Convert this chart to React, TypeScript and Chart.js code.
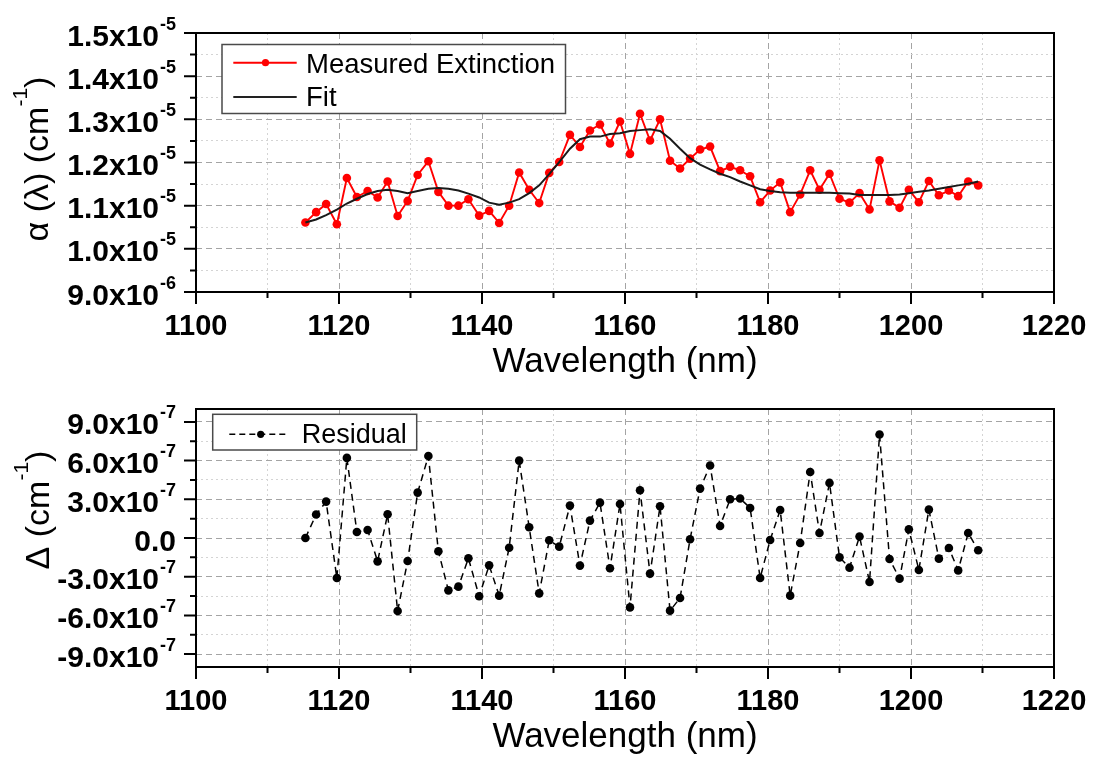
import React, { useEffect, useRef } from 'react';
import { Chart, registerables } from 'chart.js';

Chart.register(...registerables);

// ---------------- data ----------------
// wavelength in nm
const wavelength = [
  1115.3, 1116.8, 1118.2, 1119.7, 1121.1, 1122.5, 1124.0, 1125.4, 1126.8, 1128.2,
  1129.6, 1131.0, 1132.5, 1133.9, 1135.3, 1136.7, 1138.1, 1139.6, 1141.0, 1142.4,
  1143.8, 1145.2, 1146.6, 1148.0, 1149.4, 1150.8, 1152.3, 1153.7, 1155.1, 1156.5,
  1157.9, 1159.3, 1160.7, 1162.1, 1163.5, 1164.9, 1166.3, 1167.7, 1169.1, 1170.5,
  1171.9, 1173.3, 1174.7, 1176.1, 1177.5, 1178.9, 1180.3, 1181.7, 1183.1, 1184.5,
  1185.9, 1187.2, 1188.6, 1190.0, 1191.4, 1192.8, 1194.2, 1195.6, 1197.0, 1198.4,
  1199.7, 1201.1, 1202.5, 1203.9, 1205.3, 1206.6, 1208.0, 1209.4,
];

// measured extinction, units of 1e-5 cm^-1
const measured = [
  1.061, 1.085, 1.104, 1.057, 1.164, 1.120, 1.134, 1.119, 1.156, 1.076,
  1.111, 1.171, 1.203, 1.132, 1.100, 1.100, 1.115, 1.077, 1.088, 1.060,
  1.100, 1.177, 1.137, 1.106, 1.176, 1.201, 1.264, 1.236, 1.274, 1.288,
  1.244, 1.295, 1.220, 1.313, 1.251, 1.300, 1.204, 1.186, 1.209, 1.230,
  1.237, 1.180, 1.190, 1.182, 1.168, 1.108, 1.135, 1.154, 1.085, 1.126,
  1.182, 1.137, 1.174, 1.116, 1.107, 1.129, 1.091, 1.205, 1.110, 1.095,
  1.137, 1.108, 1.157, 1.124, 1.135, 1.122, 1.156, 1.147,
];

// fit, units of 1e-5 cm^-1
const fit = [
  1.061, 1.068, 1.078, 1.091, 1.105, 1.116, 1.127, 1.134, 1.137, 1.134,
  1.129, 1.134, 1.139, 1.141, 1.139, 1.135, 1.128, 1.119, 1.107, 1.102,
  1.107, 1.115, 1.129, 1.147, 1.173, 1.201, 1.232, 1.254, 1.260, 1.260,
  1.266, 1.268, 1.273, 1.275, 1.277, 1.273, 1.255, 1.232, 1.210, 1.195,
  1.184, 1.174, 1.166, 1.156, 1.147, 1.138, 1.134, 1.131, 1.130, 1.130,
  1.130, 1.130, 1.130, 1.129, 1.128, 1.125, 1.125, 1.125, 1.125, 1.126,
  1.129, 1.132, 1.135, 1.139, 1.143, 1.147, 1.151, 1.156,
];

// residual, units of 1e-7 cm^-1
const residual = [
  0.0, 1.82, 2.82, -3.10, 6.21, 0.47, 0.62, -1.81, 1.84, -5.66,
  -1.78, 3.52, 6.36, -1.03, -4.06, -3.77, -1.57, -4.52, -2.12, -4.47,
  -0.75, 6.00, 0.83, -4.29, -0.18, -0.67, 2.51, -2.14, 1.35, 2.74,
  -2.35, 2.64, -5.38, 3.70, -2.76, 2.46, -5.63, -4.65, -0.10, 3.83,
  5.62, 0.93, 3.00, 3.06, 2.33, -3.10, -0.16, 2.17, -4.47, -0.39,
  5.12, 0.39, 4.27, -1.50, -2.30, 0.11, -3.41, 8.02, -1.63, -3.15,
  0.67, -2.48, 2.20, -1.60, -0.78, -2.51, 0.39, -0.95,
];

// ---------------- ticks ----------------
const xMajorTicks = [1100, 1120, 1140, 1160, 1180, 1200, 1220];
const xMinorTicks = [1110, 1130, 1150, 1170, 1190, 1210];
const xMajorLabels = ['1100', '1120', '1140', '1160', '1180', '1200', '1220'];

const yTopMajor = [0.9, 1.0, 1.1, 1.2, 1.3, 1.4, 1.5];
const yTopMinor = [0.95, 1.05, 1.15, 1.25, 1.35, 1.45];
const yTopMantissa = ['9.0x10', '1.0x10', '1.1x10', '1.2x10', '1.3x10', '1.4x10', '1.5x10'];
const yTopExponent = ['-6', '-5', '-5', '-5', '-5', '-5', '-5'];

const yBotMajor = [-9, -6, -3, 0, 3, 6, 9];
const yBotMinor = [-7.5, -4.5, -1.5, 1.5, 4.5, 7.5];
const yBotMantissa = ['-9.0x10', '-6.0x10', '-3.0x10', '0.0', '3.0x10', '6.0x10', '9.0x10'];
const yBotExponent = ['-7', '-7', '-7', '', '-7', '-7', '-7'];

const FONT = '"Liberation Sans", Arial, Helvetica, sans-serif';
const MAJOR_GRID = '#a4a4a4';
const MINOR_GRID = '#d4d4d4';
const W = 1093;

interface LegendItem {
  label: string;
  color: string;
  width: number;
  dash: number[];
  marker: boolean;
  lineY: number;
  baseline: number;
}

interface PanelSpec {
  top: number;
  height: number;
  area: { left: number; top: number; right: number; bottom: number };
  yMin: number;
  yMax: number;
  yMajor: number[];
  yMinor: number[];
  yMantissa: string[];
  yExponent: string[];
  yTitle: [string, string, string];
  yTitleX: number;
  yTitleCenter: number;
  legendBox: { x: number; y: number; w: number; h: number };
  legendItems: LegendItem[];
  legendFont: number;
  sampleX1: number;
  sampleX2: number;
  markerX: number;
  textX: number;
  datasets: any[];
}

const near = (arr: number[], v: number) => arr.some((a) => Math.abs(a - v) < 1e-6);

function decorPlugin(spec: PanelSpec) {
  return {
    id: 'decor',
    afterDraw(chart: any) {
      const ctx: CanvasRenderingContext2D = chart.ctx;
      const a = chart.chartArea;
      const xs = chart.scales.x;
      const ys = chart.scales.y;
      ctx.save();
      ctx.setLineDash([]);
      ctx.strokeStyle = '#000';
      ctx.lineWidth = 2;
      // tick marks
      ctx.beginPath();
      xMajorTicks.forEach((v) => {
        const p = xs.getPixelForValue(v);
        ctx.moveTo(p, a.bottom);
        ctx.lineTo(p, a.bottom + 12);
      });
      xMinorTicks.forEach((v) => {
        const p = xs.getPixelForValue(v);
        ctx.moveTo(p, a.bottom);
        ctx.lineTo(p, a.bottom + 6);
      });
      spec.yMajor.forEach((v) => {
        const p = ys.getPixelForValue(v);
        ctx.moveTo(a.left, p);
        ctx.lineTo(a.left - 12, p);
      });
      spec.yMinor.forEach((v) => {
        const p = ys.getPixelForValue(v);
        ctx.moveTo(a.left, p);
        ctx.lineTo(a.left - 6, p);
      });
      ctx.stroke();
      // frame
      ctx.strokeRect(a.left, a.top, a.right - a.left, a.bottom - a.top);

      ctx.fillStyle = '#000';
      // x tick labels
      ctx.font = `bold 29px ${FONT}`;
      ctx.textAlign = 'center';
      ctx.textBaseline = 'alphabetic';
      xMajorTicks.forEach((v, i) => {
        ctx.fillText(xMajorLabels[i], xs.getPixelForValue(v), a.bottom + 43);
      });
      // y tick labels with superscript exponent
      ctx.textAlign = 'left';
      spec.yMajor.forEach((v, i) => {
        const p = ys.getPixelForValue(v);
        const main = spec.yMantissa[i];
        const sup = spec.yExponent[i];
        ctx.font = `bold 18px ${FONT}`;
        const ws = sup ? ctx.measureText(sup).width : 0;
        ctx.font = `bold 30px ${FONT}`;
        const wm = ctx.measureText(main).width;
        const right = a.left - 20;
        const x0 = right - ws - wm - (sup ? 1 : 0);
        ctx.fillText(main, x0, p + 12.5);
        if (sup) {
          ctx.font = `bold 18px ${FONT}`;
          ctx.fillText(sup, right - ws, p - 3.5);
        }
      });
      // x title
      ctx.font = `35px ${FONT}`;
      ctx.textAlign = 'center';
      ctx.fillText('Wavelength (nm)', (a.left + a.right) / 2, a.bottom + 80);

      // y title (rotated)
      ctx.save();
      ctx.translate(spec.yTitleX, spec.yTitleCenter);
      ctx.rotate(-Math.PI / 2);
      ctx.textAlign = 'left';
      const [t1, t2, t3] = spec.yTitle;
      ctx.font = `34px ${FONT}`;
      const w1 = ctx.measureText(t1).width;
      const w3 = ctx.measureText(t3).width;
      ctx.font = `21px ${FONT}`;
      const w2 = ctx.measureText(t2).width;
      const start = -(w1 + w2 + w3) / 2;
      ctx.font = `34px ${FONT}`;
      ctx.fillText(t1, start, 0);
      ctx.fillText(t3, start + w1 + w2, 0);
      ctx.font = `21px ${FONT}`;
      ctx.fillText(t2, start + w1, -21);
      ctx.restore();

      // legend
      const b = spec.legendBox;
      ctx.fillStyle = '#fff';
      ctx.fillRect(b.x, b.y, b.w, b.h);
      ctx.strokeStyle = '#4a4a4a';
      ctx.lineWidth = 1.5;
      ctx.setLineDash([]);
      ctx.strokeRect(b.x, b.y, b.w, b.h);
      spec.legendItems.forEach((it) => {
        ctx.strokeStyle = it.color;
        ctx.lineWidth = it.width;
        ctx.setLineDash(it.dash);
        ctx.beginPath();
        ctx.moveTo(spec.sampleX1, it.lineY);
        ctx.lineTo(spec.sampleX2, it.lineY);
        ctx.stroke();
        ctx.setLineDash([]);
        if (it.marker) {
          ctx.fillStyle = it.color;
          ctx.beginPath();
          ctx.arc(spec.markerX, it.lineY, 3.6, 0, Math.PI * 2);
          ctx.fill();
        }
        ctx.fillStyle = '#000';
        ctx.font = `${spec.legendFont}px ${FONT}`;
        ctx.textAlign = 'left';
        ctx.fillText(it.label, spec.textX, it.baseline);
      });
      ctx.restore();
    },
  };
}

function buildConfig(spec: PanelSpec): any {
  const allX = [...xMajorTicks, ...xMinorTicks];
  const allY = [...spec.yMajor, ...spec.yMinor];
  return {
    type: 'line',
    data: { datasets: spec.datasets },
    plugins: [decorPlugin(spec)],
    options: {
      responsive: false,
      maintainAspectRatio: false,
      animation: false,
      events: [],
      layout: {
        autoPadding: false,
        padding: {
          left: spec.area.left,
          top: spec.area.top,
          right: W - spec.area.right,
          bottom: spec.height - spec.area.bottom,
        },
      },
      plugins: { legend: { display: false }, tooltip: { enabled: false } },
      scales: {
        x: {
          type: 'linear',
          min: 1100,
          max: 1220,
          afterBuildTicks: (s: any) => {
            s.ticks = allX.map((v) => ({ value: v }));
          },
          afterFit: (s: any) => {
            s.height = 0;
          },
          ticks: { display: false },
          grid: {
            drawTicks: false,
            lineWidth: 1,
            color: (c: any) => (near(xMajorTicks, c.tick.value) ? MAJOR_GRID : MINOR_GRID),
          },
          border: {
            display: false,
            dash: (c: any) => (near(xMajorTicks, c.tick.value) ? [6, 4] : [2, 3]),
          },
        },
        y: {
          type: 'linear',
          min: spec.yMin,
          max: spec.yMax,
          afterBuildTicks: (s: any) => {
            s.ticks = allY.map((v) => ({ value: v }));
          },
          afterFit: (s: any) => {
            s.width = 0;
          },
          ticks: { display: false },
          grid: {
            drawTicks: false,
            lineWidth: 1,
            color: (c: any) => (near(spec.yMajor, c.tick.value) ? MAJOR_GRID : MINOR_GRID),
          },
          border: {
            display: false,
            dash: (c: any) => (near(spec.yMajor, c.tick.value) ? [6, 4] : [2, 3]),
          },
        },
      },
    },
  };
}

const topSpec: PanelSpec = {
  top: 0,
  height: 381,
  area: { left: 196, top: 33, right: 1054, bottom: 292 },
  yMin: 0.9,
  yMax: 1.5,
  yMajor: yTopMajor,
  yMinor: yTopMinor,
  yMantissa: yTopMantissa,
  yExponent: yTopExponent,
  yTitle: ['\u03b1 (\u03bb) (cm', '-1', ')'],
  yTitleX: 48,
  yTitleCenter: 159,
  legendBox: { x: 222, y: 44.5, w: 343.5, h: 69 },
  legendItems: [
    { label: 'Measured Extinction', color: '#ff0000', width: 2, dash: [], marker: true, lineY: 62.7, baseline: 72.7 },
    { label: 'Fit', color: '#222222', width: 2, dash: [], marker: false, lineY: 97, baseline: 106 },
  ],
  legendFont: 27.5,
  sampleX1: 233.3,
  sampleX2: 296.7,
  markerX: 265.5,
  textX: 306,
  datasets: [
    {
      label: 'Fit',
      data: wavelength.map((x, i) => ({ x, y: fit[i] })),
      borderColor: '#1a1a1a',
      borderWidth: 2,
      pointRadius: 0,
      tension: 0,
      order: 0,
    },
    {
      label: 'Measured Extinction',
      data: wavelength.map((x, i) => ({ x, y: measured[i] })),
      borderColor: '#ff0000',
      backgroundColor: '#ff0000',
      borderWidth: 1.9,
      pointRadius: 4.3,
      pointBackgroundColor: '#ff0000',
      pointBorderColor: '#ff0000',
      pointBorderWidth: 0,
      tension: 0,
      order: 1,
    },
  ],
};

const botSpec: PanelSpec = {
  top: 381,
  height: 382,
  area: { left: 196, top: 28, right: 1054, bottom: 286 },
  yMin: -10,
  yMax: 10,
  yMajor: yBotMajor,
  yMinor: yBotMinor,
  yMantissa: yBotMantissa,
  yExponent: yBotExponent,
  yTitle: ['\u0394 (cm', '-1', ')'],
  yTitleX: 49,
  yTitleCenter: 129,
  legendBox: { x: 212.7, y: 33.3, w: 204, h: 35.7 },
  legendItems: [
    { label: 'Residual', color: '#000000', width: 1.6, dash: [6, 4], marker: true, lineY: 53.3, baseline: 61.7 },
  ],
  legendFont: 27,
  sampleX1: 229.3,
  sampleX2: 287.3,
  markerX: 260.7,
  textX: 301.7,
  datasets: [
    {
      label: 'Residual',
      data: wavelength.map((x, i) => ({ x, y: residual[i] })),
      borderColor: '#000000',
      backgroundColor: '#000000',
      borderWidth: 1.5,
      borderDash: [7, 5],
      pointRadius: 4.3,
      pointBackgroundColor: '#000000',
      pointBorderColor: '#000000',
      pointBorderWidth: 0,
      tension: 0,
    },
  ],
};

function Panel({ spec }: { spec: PanelSpec }) {
  const ref = useRef<HTMLCanvasElement>(null);
  useEffect(() => {
    if (!ref.current) return;
    const chart = new Chart(ref.current, buildConfig(spec));
    return () => chart.destroy();
  }, [spec]);
  return (
    <canvas
      ref={ref}
      width={W}
      height={spec.height}
      style={{ position: 'absolute', left: 0, top: spec.top, width: W, height: spec.height, display: 'block' }}
    />
  );
}

export default function App() {
  return (
    <div style={{ position: 'absolute', left: 0, top: 0, width: W, height: 763, background: '#fff', overflow: 'hidden' }}>
      <Panel spec={topSpec} />
      <Panel spec={botSpec} />
    </div>
  );
}
